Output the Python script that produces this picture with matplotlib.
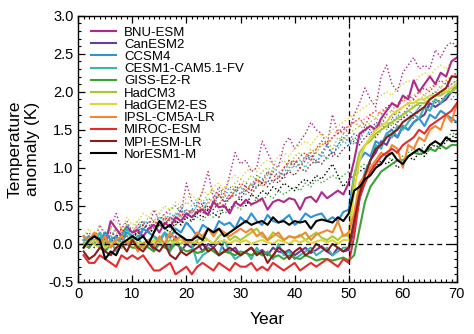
import numpy as np
import matplotlib
matplotlib.use("Agg")
import matplotlib.pyplot as plt
from matplotlib.ticker import MultipleLocator, FormatStrFormatter

plt.rcParams['font.family'] = ['Liberation Sans', 'DejaVu Sans']

# Data: yearly temperature anomaly (K), years 1..70
years = np.arange(1, 71)

models = ['BNU-ESM', 'CanESM2', 'CCSM4', 'CESM1-CAM5.1-FV', 'GISS-E2-R', 'HadCM3',
          'HadGEM2-ES', 'IPSL-CM5A-LR', 'MIROC-ESM', 'MPI-ESM-LR', 'NorESM1-M']
colors = ['#b0288c', '#6a3a9e', '#2f93d6', '#3cb5b0', '#3aa336', '#a6c832',
          '#e0d43c', '#f5862f', '#e52b2b', '#8b1c1c', '#000000']

# solid lines (step experiment)
bnu_s = [0.05, 0.10, 0.02, 0.08, 0.00, 0.30, 0.20, 0.10, 0.22, 0.15,
         0.18, 0.10, 0.20, 0.25, 0.15, 0.28, 0.22, 0.35, 0.30, 0.40,
         0.35, 0.42, 0.45, 0.38, 0.55, 0.48, 0.50, 0.40, 0.55, 0.50,
         0.58, 0.52, 0.55, 0.60, 0.45, 0.55, 0.58, 0.55, 0.60, 0.58,
         0.45, 0.60, 0.62, 0.55, 0.68, 0.60, 0.65, 0.70, 0.65, 0.80,
         1.10, 1.45, 1.50, 1.55, 1.50, 1.65, 1.75, 1.85, 1.80, 1.95,
         1.90, 2.15, 2.00, 2.10, 2.20, 2.10, 2.25, 2.20, 2.40, 2.45]
can_s = [0.00, -0.05, 0.05, 0.00, -0.10, 0.05, 0.00, 0.08, 0.00, 0.05,
         0.00, -0.05, 0.02, -0.08, 0.05, 0.00, -0.05, 0.10, -0.10, 0.00,
         -0.05, 0.02, -0.10, 0.00, -0.05, 0.03, -0.08, -0.10, -0.05, -0.15,
         -0.10, -0.05, -0.12, -0.08, -0.15, -0.05, -0.10, -0.12, -0.08, -0.15,
         -0.10, -0.05, -0.12, -0.08, -0.03, -0.10, -0.15, -0.05, -0.10, -0.08,
         0.20, 0.60, 0.90, 1.10, 1.20, 1.35, 1.30, 1.45, 1.40, 1.55,
         1.50, 1.60, 1.65, 1.70, 1.85, 1.80, 1.85, 1.90, 2.00, 2.10]
ccsm_s = [0.10, 0.00, 0.12, 0.05, 0.15, 0.05, 0.10, 0.00, 0.15, 0.10,
          0.05, 0.20, 0.15, 0.10, 0.05, 0.15, 0.08, 0.20, 0.15, 0.28,
          0.20, 0.10, 0.25, 0.20, 0.15, 0.30, 0.25, 0.28, 0.20, 0.35,
          0.28, 0.40, 0.30, 0.25, 0.38, 0.30, 0.28, 0.32, 0.38, 0.25,
          0.30, 0.40, 0.35, 0.38, 0.40, 0.30, 0.35, 0.30, 0.42, 0.45,
          0.90, 1.10, 1.20, 1.15, 1.35, 1.30, 1.45, 1.50, 1.40, 1.55,
          1.50, 1.60, 1.65, 1.55, 1.70, 1.65, 1.75, 1.70, 1.65, 1.60]
cesm_s = [0.05, 0.10, 0.00, 0.15, -0.05, 0.05, -0.10, 0.10, 0.20, 0.05,
          0.10, -0.05, 0.05, 0.10, 0.00, 0.15, -0.10, 0.05, 0.10, 0.05,
          0.00, -0.25, -0.15, -0.10, -0.05, -0.15, 0.05, -0.10, -0.20, -0.15,
          -0.10, -0.20, -0.05, -0.15, -0.10, -0.20, 0.00, -0.15, -0.10, -0.20,
          -0.15, -0.10, -0.05, -0.15, -0.10, -0.05, -0.15, -0.10, -0.05, -0.05,
          0.30, 0.70, 0.95, 1.10, 1.30, 1.25, 1.45, 1.40, 1.55, 1.50,
          1.60, 1.70, 1.65, 1.80, 1.75, 1.90, 1.85, 1.95, 2.00, 2.10]
giss_s = [0.00, -0.05, 0.05, 0.00, -0.10, 0.00, 0.05, -0.05, 0.00, -0.05,
          -0.05, 0.00, -0.05, -0.10, 0.00, -0.05, -0.08, 0.00, -0.05, -0.10,
          -0.08, -0.12, -0.10, -0.05, -0.10, -0.15, -0.10, -0.12, -0.15, -0.10,
          -0.12, -0.15, -0.10, -0.15, -0.12, -0.18, -0.15, -0.20, -0.15, -0.18,
          -0.20, -0.15, -0.18, -0.22, -0.20, -0.20, -0.22, -0.20, -0.18, -0.22,
          -0.15, 0.20, 0.55, 0.75, 0.85, 0.95, 1.00, 1.05, 1.10, 1.10,
          1.15, 1.20, 1.18, 1.20, 1.25, 1.22, 1.30, 1.25, 1.30, 1.30]
hadcm_s = [0.00, 0.05, 0.00, -0.05, 0.05, 0.00, 0.05, -0.05, 0.00, 0.05,
           0.00, -0.05, 0.02, 0.00, 0.05, 0.00, 0.05, 0.02, 0.00, 0.05,
           0.00, 0.05, 0.10, 0.05, 0.00, 0.10, 0.15, 0.05, 0.10, 0.05,
           0.10, 0.15, 0.20, 0.10, 0.05, 0.15, 0.10, 0.05, 0.10, 0.08,
           0.12, 0.05, 0.10, 0.15, 0.08, 0.05, 0.10, 0.05, 0.12, 0.10,
           0.90, 1.20, 1.30, 1.35, 1.45, 1.50, 1.55, 1.60, 1.65, 1.70,
           1.75, 1.80, 1.85, 1.85, 1.90, 1.95, 1.95, 2.00, 2.00, 2.05]
hadgem_s = [-0.05, 0.00, 0.05, 0.00, -0.05, 0.00, 0.03, 0.00, 0.05, 0.00,
            0.00, 0.02, 0.00, 0.05, 0.00, 0.02, 0.00, 0.03, 0.05, 0.00,
            0.05, 0.00, 0.03, 0.05, 0.00, 0.02, 0.05, 0.00, 0.05, 0.02,
            0.05, 0.00, 0.03, 0.05, 0.02, 0.00, 0.05, 0.03, 0.00, 0.05,
            0.02, 0.05, 0.00, 0.03, 0.05, 0.02, 0.05, 0.00, 0.05, 0.05,
            0.70, 1.10, 1.30, 1.40, 1.50, 1.55, 1.60, 1.70, 1.75, 1.80,
            1.85, 1.85, 1.90, 1.90, 1.95, 1.95, 2.00, 2.00, 2.05, 2.10]
ipsl_s = [0.10, 0.05, 0.15, 0.00, 0.10, -0.05, 0.05, 0.10, 0.00, 0.05,
          -0.10, 0.00, 0.05, -0.05, 0.10, 0.00, 0.15, 0.05, 0.10, 0.00,
          0.05, 0.15, 0.10, 0.20, 0.10, 0.20, 0.15, 0.10, 0.15, 0.20,
          0.15, 0.20, 0.10, 0.15, 0.05, 0.10, 0.15, 0.05, 0.10, 0.08,
          0.10, 0.15, 0.05, 0.12, 0.15, 0.18, 0.15, 0.30, 0.10, 0.15,
          0.40, 0.80, 0.90, 1.00, 1.10, 1.20, 1.15, 1.30, 1.25, 1.00,
          1.30, 1.25, 1.40, 1.35, 1.50, 1.55, 1.50, 1.70, 1.60, 1.85]
miroc_s = [-0.15, -0.25, -0.25, -0.15, -0.20, -0.25, -0.30, -0.15, -0.20, -0.15,
           -0.20, -0.15, -0.25, -0.35, -0.35, -0.30, -0.25, -0.40, -0.35, -0.30,
           -0.40, -0.30, -0.25, -0.30, -0.35, -0.25, -0.30, -0.35, -0.25, -0.30,
           -0.30, -0.25, -0.35, -0.30, -0.35, -0.25, -0.30, -0.35, -0.30, -0.25,
           -0.35, -0.30, -0.25, -0.30, -0.25, -0.20, -0.25, -0.30, -0.20, -0.25,
           0.10, 0.60, 0.80, 0.95, 1.05, 1.15, 1.20, 1.25, 1.20, 1.30,
           1.35, 1.40, 1.50, 1.45, 1.55, 1.60, 1.65, 1.70, 1.75, 1.85]
mpi_s = [-0.10, -0.20, -0.15, -0.05, -0.10, -0.15, -0.05, 0.00, -0.10, 0.05,
         -0.05, -0.10, 0.00, -0.05, -0.10, 0.00, -0.15, -0.20, -0.10, -0.15,
         -0.10, -0.05, 0.00, -0.10, -0.05, -0.15, -0.10, -0.05, -0.10, -0.15,
         -0.10, -0.05, -0.15, -0.10, -0.25, -0.15, -0.05, -0.10, -0.20, -0.10,
         -0.05, -0.15, -0.10, 0.00, -0.05, -0.10, 0.00, -0.05, -0.10, -0.05,
         0.30, 0.65, 0.90, 1.10, 1.25, 1.30, 1.40, 1.45, 1.50, 1.60,
         1.65, 1.70, 1.75, 1.80, 1.90, 1.95, 2.00, 2.05, 2.20, 2.20]
nor_s = [-0.05, 0.05, 0.10, 0.05, -0.20, -0.10, -0.15, 0.00, 0.05, 0.10,
         0.05, 0.10, 0.00, 0.15, 0.30, 0.20, 0.25, 0.15, 0.10, 0.05,
         0.05, 0.10, 0.05, 0.20, 0.15, 0.20, 0.10, 0.15, 0.20, 0.25,
         0.30, 0.25, 0.28, 0.30, 0.25, 0.35, 0.28, 0.30, 0.25, 0.30,
         0.28, 0.30, 0.20, 0.30, 0.32, 0.30, 0.28, 0.35, 0.30, 0.40,
         0.70, 0.75, 0.85, 0.90, 1.00, 1.05, 1.15, 1.20, 1.10, 1.05,
         1.15, 1.20, 1.25, 1.20, 1.30, 1.35, 1.30, 1.40, 1.35, 1.35]

# dotted lines (gradual experiment)
bnu_d = [0.10, 0.15, 0.05, 0.25, 0.10, 0.20, 0.40, 0.20, 0.30, 0.15,
         0.25, 0.30, 0.20, 0.45, 0.30, 0.40, 0.45, 0.50, 0.40, 0.80,
         0.55, 0.50, 0.70, 0.95, 0.60, 0.75, 0.65, 0.90, 1.20, 1.05,
         1.10, 0.95, 1.00, 1.35, 1.20, 1.05, 1.00, 1.30, 1.40, 1.25,
         1.35, 1.45, 1.60, 1.50, 1.45, 1.30, 1.70, 1.45, 1.55, 1.45,
         1.70, 1.85, 2.05, 1.90, 1.80, 2.20, 2.35, 2.10, 2.00, 2.25,
         2.35, 2.45, 2.30, 2.35, 2.30, 2.55, 2.45, 2.60, 2.65, 2.60]
can_d = [0.05, 0.00, 0.10, 0.05, 0.15, 0.05, 0.10, 0.20, 0.10, 0.15,
         0.20, 0.15, 0.30, 0.20, 0.30, 0.25, 0.35, 0.30, 0.45, 0.35,
         0.45, 0.40, 0.55, 0.45, 0.55, 0.65, 0.55, 0.65, 0.75, 0.65,
         0.75, 0.70, 0.85, 0.80, 0.80, 0.95, 0.90, 0.85, 1.00, 1.10,
         1.00, 1.10, 1.20, 1.05, 1.20, 1.30, 1.15, 1.30, 1.40, 1.35,
         1.45, 1.40, 1.55, 1.50, 1.60, 1.55, 1.70, 1.65, 1.75, 1.70,
         1.80, 1.90, 1.80, 1.90, 1.95, 2.00, 1.95, 2.05, 2.10, 2.15]
ccsm_d = [0.05, 0.10, 0.00, 0.15, 0.05, 0.10, 0.20, 0.10, 0.25, 0.15,
          0.20, 0.30, 0.15, 0.25, 0.35, 0.30, 0.40, 0.35, 0.50, 0.40,
          0.45, 0.55, 0.50, 0.60, 0.55, 0.70, 0.60, 0.75, 0.70, 0.65,
          0.80, 0.75, 0.90, 0.85, 0.80, 1.00, 0.95, 0.90, 1.10, 1.00,
          1.05, 1.15, 1.10, 1.20, 1.15, 1.30, 1.20, 1.25, 1.35, 1.30,
          1.40, 1.35, 1.50, 1.45, 1.55, 1.50, 1.60, 1.55, 1.70, 1.65,
          1.75, 1.70, 1.80, 1.85, 1.80, 1.90, 1.85, 1.95, 2.00, 2.05]
cesm_d = [0.00, 0.10, 0.05, 0.15, 0.10, 0.05, 0.20, 0.15, 0.25, 0.10,
          0.20, 0.25, 0.30, 0.20, 0.35, 0.30, 0.25, 0.40, 0.35, 0.45,
          0.40, 0.50, 0.45, 0.55, 0.50, 0.65, 0.55, 0.60, 0.70, 0.75,
          0.65, 0.80, 0.75, 0.85, 0.95, 0.80, 0.90, 1.00, 0.95, 1.05,
          1.10, 1.00, 1.15, 1.05, 1.20, 1.10, 1.25, 1.30, 1.45, 1.40,
          1.30, 1.45, 1.50, 1.40, 1.55, 1.60, 1.50, 1.65, 1.60, 1.70,
          1.75, 1.70, 1.80, 1.75, 1.85, 1.90, 1.85, 1.95, 1.90, 2.00]
giss_d = [0.00, 0.05, 0.10, 0.00, 0.05, 0.10, 0.05, 0.15, 0.10, 0.05,
          0.15, 0.10, 0.20, 0.15, 0.25, 0.20, 0.15, 0.25, 0.30, 0.25,
          0.30, 0.35, 0.30, 0.40, 0.35, 0.45, 0.40, 0.45, 0.50, 0.45,
          0.55, 0.50, 0.60, 0.55, 0.65, 0.60, 0.70, 0.65, 0.70, 0.75,
          0.70, 0.80, 0.75, 0.85, 0.80, 0.85, 0.90, 0.85, 0.90, 0.95,
          0.95, 1.00, 1.05, 1.00, 1.10, 1.05, 1.15, 1.10, 1.20, 1.15,
          1.20, 1.25, 1.20, 1.30, 1.25, 1.35, 1.30, 1.40, 1.45, 1.45]
hadcm_d = [0.05, 0.10, 0.00, 0.15, 0.10, 0.20, 0.15, 0.10, 0.25, 0.20,
           0.30, 0.25, 0.35, 0.30, 0.40, 0.35, 0.45, 0.50, 0.45, 0.55,
           0.50, 0.60, 0.55, 0.65, 0.70, 0.60, 0.75, 0.70, 0.80, 0.85,
           0.80, 0.90, 0.85, 0.95, 1.00, 0.95, 1.05, 1.10, 1.00, 1.15,
           1.20, 1.10, 1.25, 1.20, 1.30, 1.35, 1.25, 1.40, 1.35, 1.45,
           1.50, 1.55, 1.50, 1.60, 1.65, 1.60, 1.70, 1.75, 1.70, 1.80,
           1.85, 1.80, 1.90, 1.95, 1.90, 2.00, 2.05, 2.00, 2.10, 2.15]
hadgem_d = [0.10, 0.20, 0.10, 0.25, 0.15, 0.20, 0.30, 0.20, 0.35, 0.25,
            0.30, 0.40, 0.35, 0.45, 0.40, 0.50, 0.45, 0.55, 0.50, 0.60,
            0.65, 0.55, 0.70, 0.65, 0.75, 0.80, 0.70, 0.85, 0.90, 0.85,
            0.95, 1.00, 0.95, 1.05, 1.10, 1.05, 1.15, 1.20, 1.15, 1.25,
            1.30, 1.35, 1.30, 1.40, 1.45, 1.40, 1.50, 1.55, 1.60, 1.65,
            1.70, 1.75, 1.80, 1.85, 1.90, 1.95, 2.00, 1.95, 2.05, 2.10,
            2.15, 2.10, 2.20, 2.25, 2.20, 2.30, 2.35, 2.30, 2.40, 2.45]
ipsl_d = [0.05, 0.00, 0.10, 0.05, 0.15, 0.10, 0.05, 0.20, 0.10, 0.15,
          0.25, 0.20, 0.15, 0.30, 0.25, 0.35, 0.30, 0.40, 0.35, 0.45,
          0.40, 0.50, 0.45, 0.55, 0.60, 0.50, 0.65, 0.60, 0.70, 0.75,
          0.70, 0.80, 0.85, 0.75, 0.90, 0.95, 0.85, 1.00, 1.05, 1.10,
          1.00, 1.15, 1.20, 1.25, 1.30, 1.35, 1.40, 1.50, 1.45, 1.55,
          1.60, 1.55, 1.65, 1.70, 1.65, 1.75, 1.80, 1.75, 1.85, 1.90,
          1.85, 1.95, 2.00, 1.95, 2.05, 2.10, 2.05, 2.15, 2.20, 2.25]
miroc_d = [0.00, 0.05, 0.10, 0.00, 0.15, 0.05, 0.10, 0.20, 0.15, 0.10,
           0.20, 0.25, 0.15, 0.30, 0.25, 0.35, 0.30, 0.25, 0.40, 0.35,
           0.45, 0.40, 0.50, 0.45, 0.55, 0.65, 0.55, 0.60, 0.70, 0.80,
           0.75, 0.70, 0.85, 0.80, 0.95, 0.90, 0.85, 1.00, 1.10, 1.05,
           1.15, 1.20, 1.10, 1.25, 1.35, 1.30, 1.40, 1.45, 1.50, 1.55,
           1.60, 1.65, 1.55, 1.70, 1.75, 1.70, 1.80, 1.85, 1.80, 1.90,
           1.95, 1.90, 2.00, 2.05, 2.00, 2.10, 2.15, 2.10, 2.20, 2.25]
mpi_d = [0.05, 0.00, 0.10, 0.05, 0.00, 0.15, 0.10, 0.05, 0.20, 0.15,
         0.10, 0.25, 0.20, 0.15, 0.30, 0.25, 0.35, 0.30, 0.25, 0.40,
         0.35, 0.45, 0.40, 0.50, 0.45, 0.55, 0.50, 0.60, 0.65, 0.60,
         0.70, 0.65, 0.75, 0.80, 0.75, 0.85, 0.80, 0.90, 0.95, 0.90,
         1.00, 0.95, 1.05, 1.10, 1.05, 1.15, 1.20, 1.15, 1.25, 1.30,
         1.35, 1.30, 1.40, 1.45, 1.40, 1.50, 1.55, 1.50, 1.60, 1.65,
         1.70, 1.65, 1.75, 1.80, 1.75, 1.85, 1.90, 1.95, 2.00, 2.05]
nor_d = [0.00, 0.05, -0.05, 0.10, 0.05, 0.00, 0.10, 0.15, 0.05, 0.10,
         0.15, 0.10, 0.20, 0.15, 0.25, 0.20, 0.15, 0.30, 0.25, 0.35,
         0.30, 0.40, 0.35, 0.45, 0.40, 0.35, 0.50, 0.45, 0.55, 0.60,
         0.50, 0.65, 0.60, 0.70, 0.65, 0.75, 0.70, 0.80, 0.75, 0.70,
         0.80, 0.85, 0.80, 0.90, 0.85, 0.95, 1.05, 0.90, 0.75, 0.85,
         0.90, 0.95, 1.00, 1.05, 1.00, 1.10, 1.05, 1.10, 1.00, 1.05,
         1.15, 1.10, 1.20, 1.15, 1.25, 1.30, 1.25, 1.35, 1.40, 1.45]

solid = [bnu_s, can_s, ccsm_s, cesm_s, giss_s, hadcm_s, hadgem_s, ipsl_s, miroc_s, mpi_s, nor_s]
dotted = [bnu_d, can_d, ccsm_d, cesm_d, giss_d, hadcm_d, hadgem_d, ipsl_d, miroc_d, mpi_d, nor_d]

fig = plt.figure(figsize=(4.74, 3.34), dpi=100)
ax = fig.add_axes([0.165, 0.156, 0.799, 0.797])

# dotted lines first, solid on top
for vals, c in zip(dotted, colors):
    ax.plot(years, vals, color=c, lw=1.0, ls=':')
for vals, c, name in zip(solid, colors, models):
    ax.plot(years, vals, color=c, lw=1.5, label=name)

ax.axvline(50, color='black', lw=0.9, ls=(0, (4, 3)))
ax.axhline(0, color='black', lw=0.9, ls=(0, (4, 3)))

ax.set_xlim(0, 70)
ax.set_ylim(-0.5, 3.0)
ax.xaxis.set_major_locator(MultipleLocator(10))
ax.xaxis.set_minor_locator(MultipleLocator(1))
ax.yaxis.set_major_locator(MultipleLocator(0.5))
ax.yaxis.set_minor_locator(MultipleLocator(0.1))
ax.yaxis.set_major_formatter(FormatStrFormatter('%.1f'))
ax.tick_params(which='both', direction='in', top=True, right=True, labelsize=10.5)
ax.tick_params(which='major', length=5, width=0.9)
ax.tick_params(which='minor', length=2.5, width=0.8)
for s in ax.spines.values():
    s.set_linewidth(1.0)

ax.set_xlabel('Year', fontsize=12.5, labelpad=8)
ax.set_ylabel('Temperature\nanomaly (K)', fontsize=12.5, labelpad=6)

ax.legend(loc='upper left', frameon=False, fontsize=9.5, labelspacing=0.0,
          handlelength=1.9, handletextpad=0.6, borderaxespad=0.3,
          bbox_to_anchor=(0.01, 0.995))

fig.savefig('out.png', dpi=100)
